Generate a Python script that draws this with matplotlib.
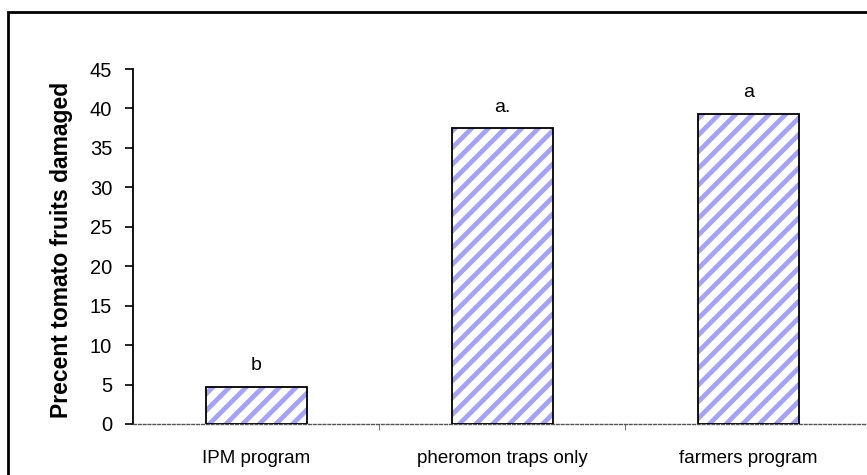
import matplotlib.pyplot as plt
from matplotlib.patches import Rectangle

categories = ["IPM program", "pheromon traps only", "farmers program"]
damage = [4.7, 37.5, 39.3]
letters = ["b", "a.", "a"]
yticks = [0, 5, 10, 15, 20, 25, 30, 35, 40, 45]

plt.rcParams["font.family"] = ["Liberation Sans", "DejaVu Sans"]
plt.rcParams["hatch.linewidth"] = 3.4


def main():
    fig = plt.figure(figsize=(8.67, 4.75), dpi=100)
    ax = fig.add_axes([0.1534, 0.1074, 0.852, 0.7473])

    x = list(range(len(categories)))
    # hatch layer (hatch takes the edge colour), then black outline on top
    ax.bar(x, damage, width=0.41, color="white", edgecolor="#a3a3ff",
           linewidth=0, hatch="//", zorder=3)
    ax.bar(x, damage, width=0.41, fill=False, edgecolor="black",
           linewidth=1.3, zorder=4)
    for xi, v, lab in zip(x, damage, letters):
        ax.annotate(lab, (xi, v), xytext=(0, 9), textcoords="offset points",
                    ha="center", va="bottom", fontsize=14)

    ax.set_xlim(-0.5, len(categories) - 0.5)
    ax.set_ylim(0, 45)
    ax.set_yticks(yticks)
    ax.tick_params(axis="y", labelsize=14.5, length=6, width=1.2,
                   direction="out", pad=9)

    # category labels between boundary ticks
    ax.set_xticks([0.5, 1.5])
    ax.set_xticklabels([])
    ax.set_xticks(x, minor=True)
    ax.set_xticklabels(categories, minor=True, fontsize=13.5)
    ax.tick_params(axis="x", which="major", length=4, width=0.8, color="#777777")
    ax.tick_params(axis="x", which="minor", length=0, pad=19)

    for s in ["top", "right"]:
        ax.spines[s].set_visible(False)
    ax.spines["left"].set_linewidth(1.3)
    ax.spines["bottom"].set_linestyle((0, (2, 1.5)))
    ax.spines["bottom"].set_color("#555555")
    ax.spines["bottom"].set_linewidth(1.0)

    ax.set_ylabel("Precent tomato fruits damaged", fontsize=16.5,
                  fontweight="bold")
    ax.yaxis.set_label_coords(-0.081, 0.49)

    # outer frame of the chart area
    fig.patches.append(Rectangle((8 / 867, -0.1), 1.1, 0.1 + 1 - 12 / 475,
                                 transform=fig.transFigure, fill=False,
                                 edgecolor="black", linewidth=2))

    fig.savefig("out.png", dpi=100)


if __name__ == "__main__":
    main()
